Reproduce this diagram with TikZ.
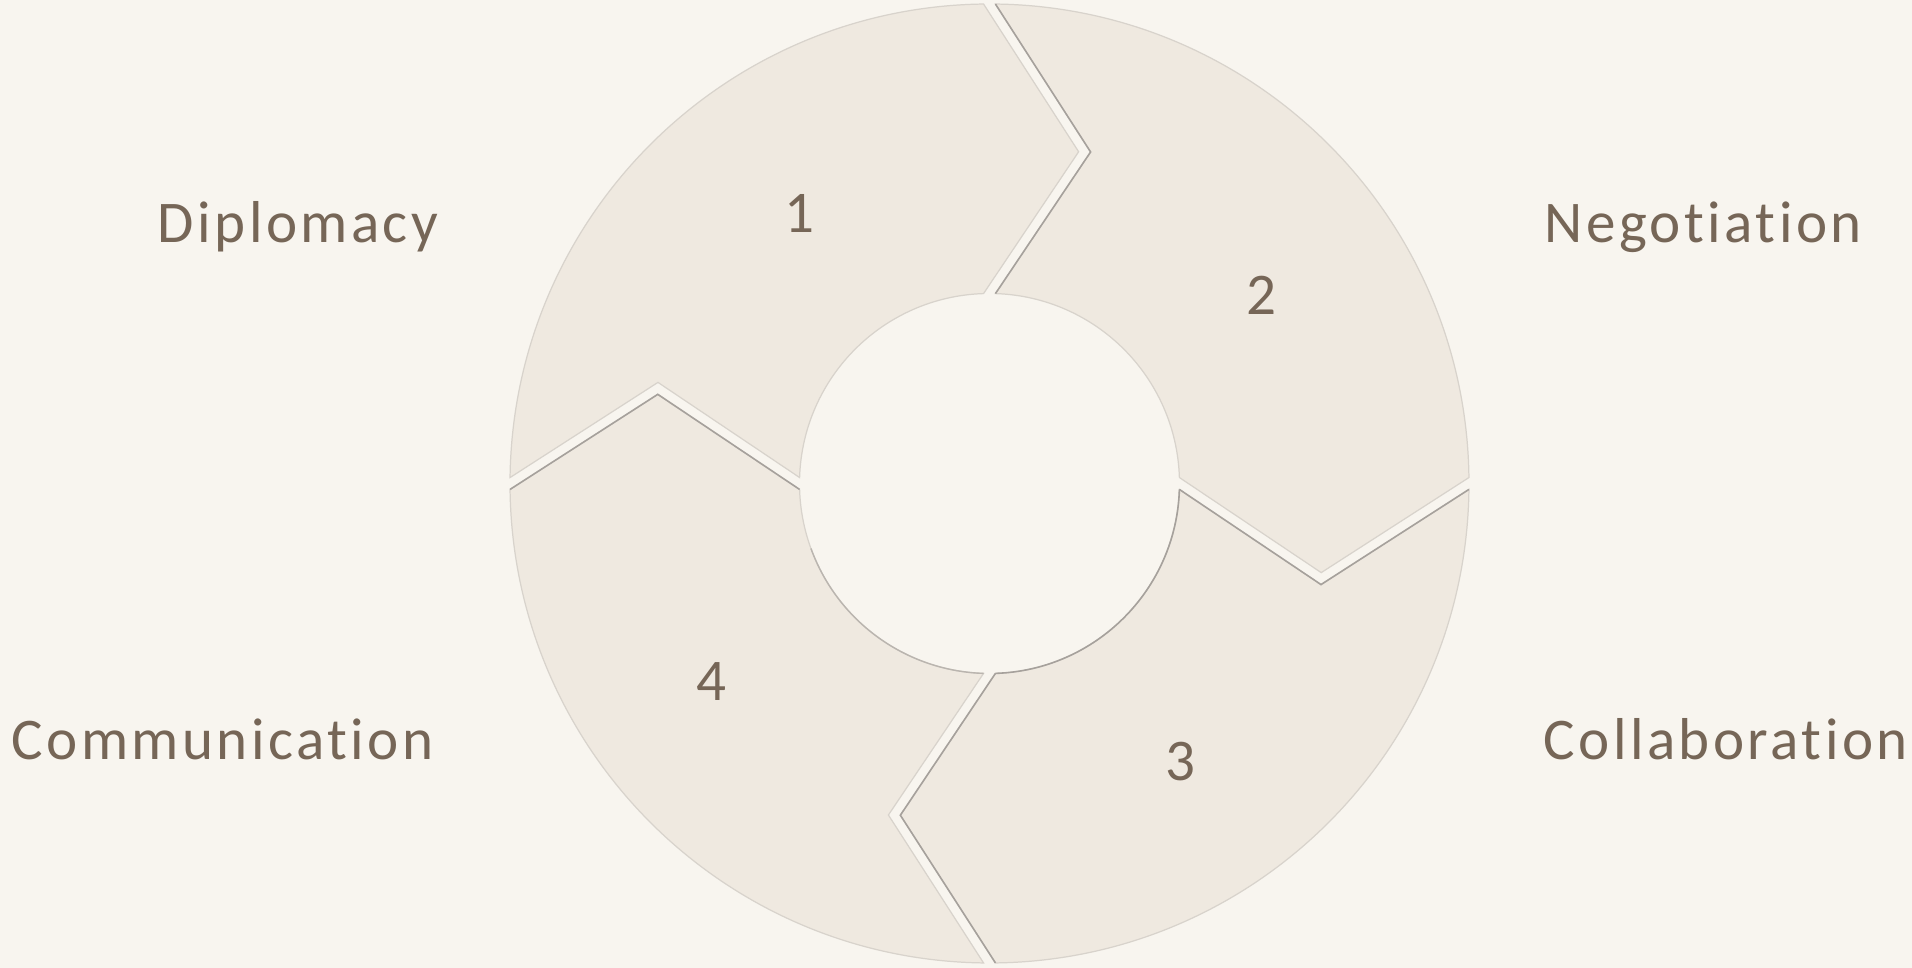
\documentclass[tikz,border=0pt]{standalone}
\usepackage{fontspec}
\setmainfont{Carlito}
\newfontfamily\lblfont[LetterSpace=5.8, Ligatures={NoCommon}]{Carlito}
\definecolor{bgc}{HTML}{F8F5EF}
\definecolor{segc}{HTML}{EFE9E0}
\definecolor{edgelight}{HTML}{D8D3CC}
\definecolor{edgedark}{HTML}{A6A19C}
\definecolor{txtc}{HTML}{766657}
\tikzset{
  segment/.style={fill=segc, draw=edgelight, line width=0.35pt, line join=miter},
  darkedge/.style={draw=edgedark, line width=0.45pt, line join=miter},
  midedge/.style={draw=edgedark!60!edgelight, line width=0.4pt},
  numlbl/.style={inner sep=0pt, text=txtc, font=\fontsize{16.8pt}{20pt}\selectfont},
  steplbl/.style={inner sep=0pt, text=txtc, font=\lblfont\fontsize{16.8pt}{20pt}\selectfont}
}
\begin{document}
\begin{tikzpicture}[x=0.01cm,y=0.01cm]
\useasboundingbox[fill=bgc] (-989.5,-484.5) rectangle (922.5,483.5);
% four ring segments, each with an arrow tip at its clockwise end
\foreach \a/\b in {180/90, 90/0, 0/-90, -90/-180}{
  \path[segment] ({\b+0.71}:479.5) -- ({\b-15.04}:343.5) -- ({\b+1.8}:190)
    arc[start angle={\b+1.8}, end angle={\a-1.8}, radius=190]
    -- ({\a-16.96}:346.6) -- ({\a-0.71}:479.5)
    arc[start angle={\a-0.71}, end angle={\b+0.71}, radius=479.5] -- cycle;
}
% shaded edges
\draw[darkedge] (88.2:190) -- (73.04:346.6) -- (89.29:479.5);
\draw[darkedge] (-1.8:190) -- (-16.96:346.6) -- (-0.71:479.5);
\draw[darkedge] (-89.29:479.5) -- (-105.04:343.5) -- (-88.2:190);
\draw[darkedge] (-179.29:479.5) -- (-195.04:343.5) -- (-178.2:190);
\draw[darkedge] (-88.2:190) arc[start angle=-88.2, end angle=-1.8, radius=190];
\draw[midedge] (-160:190) arc[start angle=-160, end angle=-91.8, radius=190];
% numbers
\node[numlbl] (n1) at (-190.5,269.5) {1};
\node[numlbl] (n2) at (271.5,188.5) {2};
\node[numlbl] (n3) at (190.5,-278.5) {3};
\node[numlbl] (n4) at (-278.5,-198.5) {4};
% labels
\node[steplbl, anchor=base east] (l1) at (-550.5,240.5) {Diplomacy};
\node[steplbl, anchor=base west] (l2) at (554.5,240.5) {Negotiation};
\node[steplbl, anchor=base west] (l3) at (553.5,-276.5) {Collaboration};
\node[steplbl, anchor=base east] (l4) at (-555.5,-276.5) {Communication};
\end{tikzpicture}
\end{document}
